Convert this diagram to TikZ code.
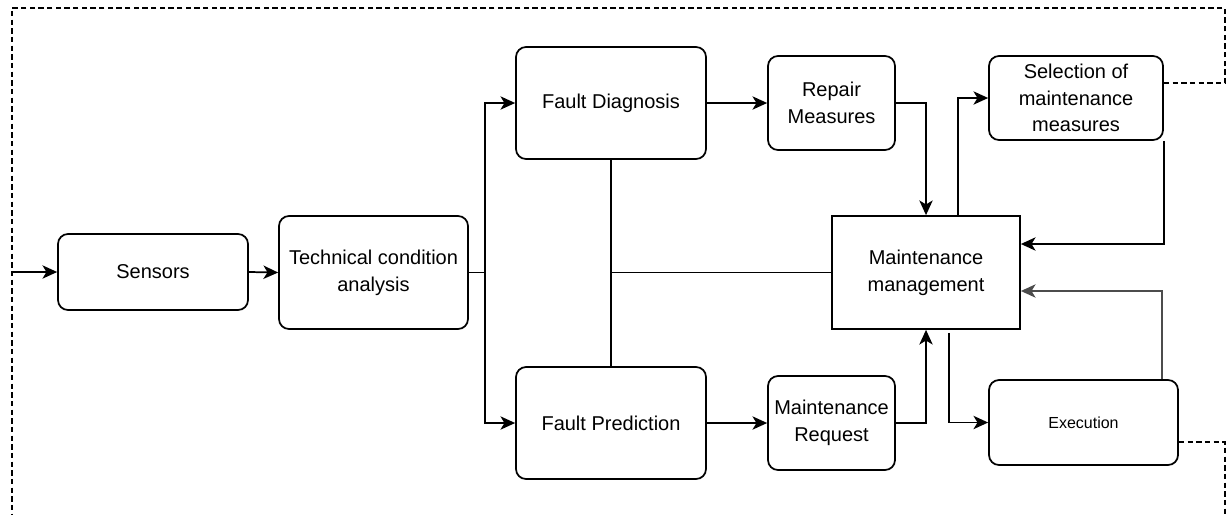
\documentclass[tikz,border=0pt]{standalone}
\usepackage{fontspec}
\setmainfont{Liberation Sans}
\usetikzlibrary{arrows.meta,calc}
\begin{document}
\begin{tikzpicture}[x=0.75pt,y=-0.75pt,
  box/.style={draw, line width=1.3pt, rounded corners=7.5pt, align=center, inner sep=2pt,
    font=\fontsize{15pt}{20pt}\selectfont, text=black},
  sbox/.style={box, rounded corners=0pt},
  conn/.style={line width=1.3pt, -{Stealth[length=11pt,width=10pt,inset=3pt]}},
  plain/.style={line width=1.3pt},
  dashline/.style={line width=0.9pt, dash pattern=on 4pt off 2.5pt}]
\useasboundingbox (0,0) rectangle (1226,515);

\node[box, minimum width=142.5pt, minimum height=57pt] (sen) at (153,272) {Sensors};
\node[box, minimum width=141.75pt, minimum height=84.75pt] (tca) at (373.5,272.5) {Technical condition\\analysis};
\node[box, minimum width=142.5pt, minimum height=84pt] (fd) at (611,103) {Fault Diagnosis};
\node[box, minimum width=142.5pt, minimum height=84pt] (fp) at (611,423) {Fault Prediction};
\node[box, minimum width=95.25pt, minimum height=70.5pt] (rm) at (831.5,103) {Repair\\Measures};
\node[box, minimum width=95.25pt, minimum height=70.5pt] (mr) at (831.5,423) {Maintenance\\Request};
\node[sbox, minimum width=141pt, minimum height=84.75pt] (mm) at (926,272.5) {Maintenance\\management};
\node[box, minimum width=130.5pt, minimum height=63pt] (sel) at (1076,98) {Selection of\\maintenance\\measures};
\node[box, minimum width=141.75pt, minimum height=63.75pt, font=\fontsize{12pt}{15pt}\selectfont] (exe) at (1083.5,422.5) {Execution};

\coordinate (in) at (12,272);
\draw[conn] (in) -- (sen.west);
\draw[conn] (sen.east) -- (tca.west);
\draw[conn] (tca.east) -- ++(16,0) |- (fd.west);
\draw[conn] (tca.east) -- ++(16,0) |- (fp.west);
\draw[plain] (fd.south) -- (fp.north);
\draw[plain] (fd.south |- mm.west) -- (mm.west);
\draw[conn] (fd.east) -- (rm.west);
\draw[conn] (fp.east) -- (mr.west);
\draw[conn] (rm.east) -| (mm.north);
\draw[conn] (mr.east) -| (mm.south);
\draw[conn] ($(mm.north)+(32,0)$) |- (sel.west);
\draw[conn] (sel.south east) |- ($(mm.east)+(0,-28.5)$);
\draw[conn, draw=black!70] ($(exe.north)+(78.5,0)$) |- ($(mm.east)+(0,18.5)$);
\draw[conn] ($(mm.south)+(23,3)$) |- (exe.west);

\draw[dashline] ($(sel.east)+(0,-15)$) -- (1225,83) -- (1225,8) -- (12,8) -- (12,515);
\draw[dashline] ($(exe.east)+(0,19.5)$) -- (1225,442) -- (1225,515);
\end{tikzpicture}
\end{document}
